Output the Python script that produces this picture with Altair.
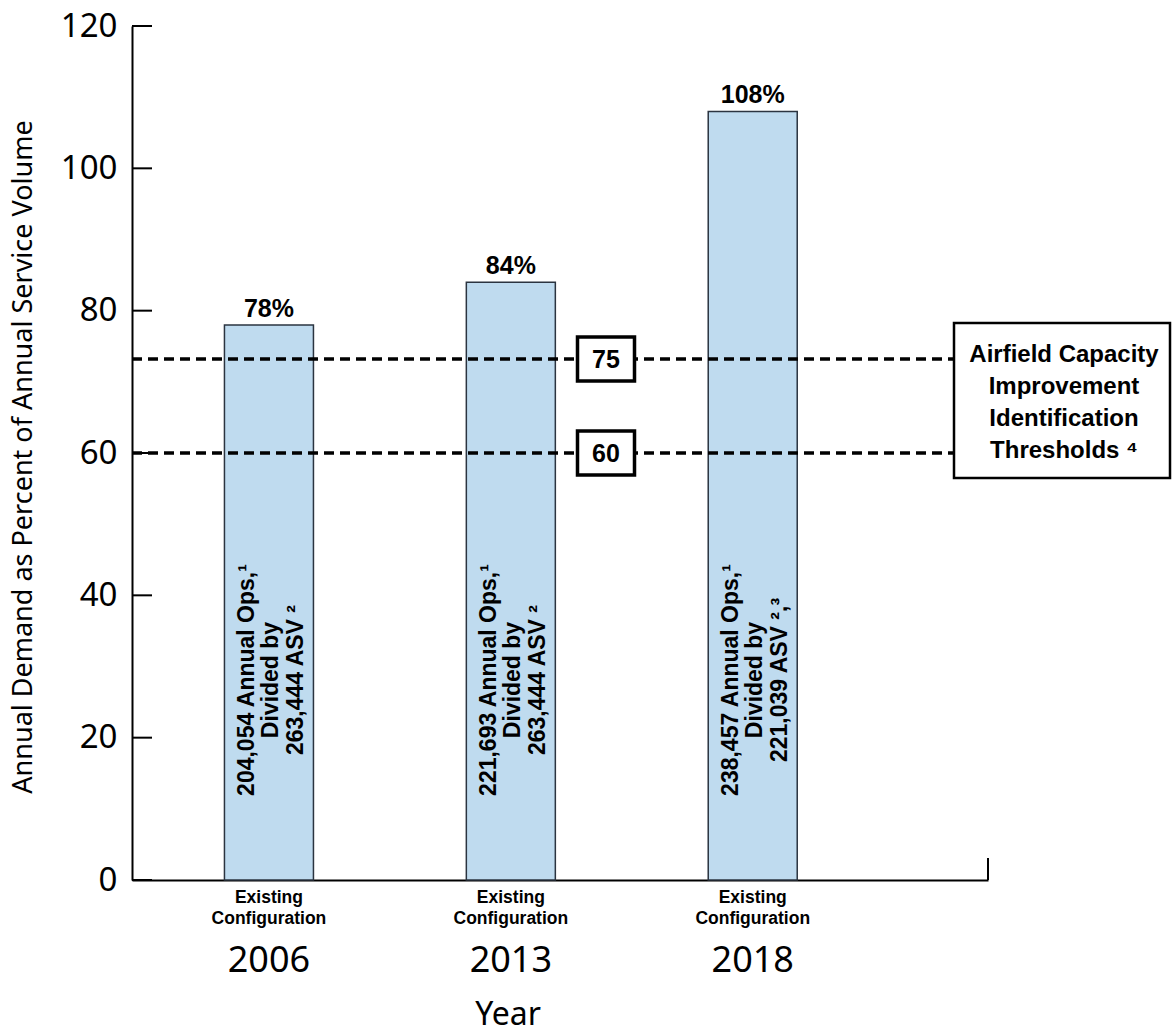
import altair as alt
import pandas as pd

# ---- data ----
years = ["2006", "2013", "2018"]
demand_pct = [78, 84, 108]
annual_ops = ["204,054", "221,693", "238,457"]
asv_values = ["263,444", "263,444", "221,039"]
asv_notes = ["²", "²", "²,³"]
config_lines = ["Existing", "Configuration"]
threshold_labels = ["75", "60"]
threshold_levels = [73.2, 60]
y_ticks = [0, 20, 40, 60, 80, 100, 120]
legend_lines = ["Airfield Capacity", "Improvement", "Identification", "Thresholds ⁴"]
y_title = "Annual Demand as Percent of Annual Service Volume"
x_title = "Year"

TOP = 26
W, H = 856, 880 - TOP
FONT = "Noto Sans"
BOLD = "Liberation Sans"

def py(screen_y):
    """screen pixel row -> plot-area pixel row"""
    return screen_y - TOP

bars_df = pd.DataFrame({
    "idx": list(range(len(years))),
    "year": years,
    "pct": demand_pct,
    "pct_label": [f"{v}%" for v in demand_pct],
    "inner": [f"{o} Annual Ops,¹\nDivided by\n{a} ASV {n}"
              for o, a, n in zip(annual_ops, asv_values, asv_notes)],
    "cfg": ["\n".join(config_lines)] * len(years),
})
thr_df = pd.DataFrame({"level": threshold_levels, "label": threshold_labels})
tick_df = pd.DataFrame({"t": y_ticks})
one = pd.DataFrame({"a": [0]})

xscale = alt.Scale(domain=[-0.5455, 2.952], nice=False, zero=False)
yscale = alt.Scale(domain=[0, 120], nice=False, zero=True)
xaxis = alt.Axis(labels=False, ticks=False, grid=False, title=None,
                 domainColor="black", domainWidth=2)
yaxis = alt.Axis(values=y_ticks, ticks=False, grid=False, title=None,
                 labelFontSize=33, labelFont=FONT, labelColor="black",
                 labelPadding=15, domainColor="black", domainWidth=2)

def X(f):
    return alt.X(f, scale=xscale, axis=xaxis)

def Y(f):
    return alt.Y(f, scale=yscale, axis=yaxis)

base = alt.Chart(bars_df)

bars = base.mark_bar(size=89, fill="#bfdbef", stroke="#2b3440", strokeWidth=1.5).encode(
    x=X("idx:Q"), y=Y("pct:Q"))

pct_text = base.mark_text(font=BOLD, fontWeight="bold", fontSize=25, baseline="bottom",
                          dy=-3, color="black").encode(
    x=X("idx:Q"), y=Y("pct:Q"), text="pct_label:N")

inner_text = base.mark_text(font=BOLD, fontWeight="bold", fontSize=23, angle=270,
                            align="center", baseline="middle", lineBreak="\n",
                            lineHeight=24.5, dy=-22, color="black").encode(
    x=X("idx:Q"), y=alt.value(py(680)), text="inner:N")

thr_rules = alt.Chart(thr_df).mark_rule(strokeDash=[10, 6], strokeWidth=3.5, color="black").encode(
    y=Y("level:Q"), x=alt.value(0), x2=alt.value(822))

box_path = "M-1,-0.77L1,-0.77L1,0.77L-1,0.77Z"
thr_boxes = alt.Chart(thr_df).mark_point(shape=box_path, size=57 * 57, filled=False,
                                         fill="white", fillOpacity=1, stroke="black",
                                         strokeWidth=3.5, opacity=1).encode(
    y=Y("level:Q"), x=alt.value(474))

thr_text = alt.Chart(thr_df).mark_text(font=BOLD, fontWeight="bold", fontSize=25,
                                       color="black", baseline="middle", dy=1).encode(
    y=Y("level:Q"), x=alt.value(474), text="label:N")

legend_box = alt.Chart(one).mark_rect(fill="white", stroke="black", strokeWidth=2.5).encode(
    x=alt.value(822), x2=alt.value(1038), y=alt.value(py(323)), y2=alt.value(py(478)))

legend_text = alt.Chart(pd.DataFrame({"t": ["\n".join(legend_lines)]})).mark_text(
    font=BOLD, fontWeight="bold", fontSize=24, lineBreak="\n", lineHeight=32,
    align="center", baseline="alphabetic", color="black").encode(
    x=alt.value(932), y=alt.value(py(362)), text="t:N")

tick_rules = alt.Chart(tick_df).mark_rule(strokeWidth=2, color="black").encode(
    y=Y("t:Q"), x=alt.value(0), x2=alt.value(20))

end_tick = alt.Chart(one).mark_rule(strokeWidth=2, color="black").encode(
    x=alt.value(W), y=alt.value(H - 22), y2=alt.value(H))

cfg_text = base.mark_text(font=BOLD, fontWeight="bold", fontSize=17.5, lineBreak="\n",
                          lineHeight=21, baseline="alphabetic", color="black").encode(
    x=X("idx:Q"), y=alt.value(py(903)), text="cfg:N")

year_text = base.mark_text(font=FONT, fontSize=36, baseline="alphabetic", color="black").encode(
    x=X("idx:Q"), y=alt.value(py(972)), text="year:N")

x_title_text = alt.Chart(pd.DataFrame({"t": [x_title]})).mark_text(
    font=FONT, fontSize=32, baseline="alphabetic", color="black").encode(
    x=alt.value(376), y=alt.value(py(1025)), text="t:N")

y_title_text = alt.Chart(pd.DataFrame({"t": [y_title]})).mark_text(
    font=FONT, fontSize=27, angle=270, baseline="middle", align="center", color="black").encode(
    x=alt.value(-108), y=alt.value(py(457)), text="t:N")

chart = alt.layer(
    bars, pct_text, inner_text, thr_rules, thr_boxes, thr_text, legend_box, legend_text,
    tick_rules, end_tick, cfg_text, year_text, x_title_text, y_title_text
).properties(
    width=W, height=H,
    background="white",
    autosize=alt.AutoSizeParams(type="none"),
    padding={"left": 132, "top": TOP, "right": 184, "bottom": 1036 - 880},
).configure_view(stroke="transparent", strokeWidth=0)

chart.save("out.html", embed_options={"renderer": "svg", "actions": False})
